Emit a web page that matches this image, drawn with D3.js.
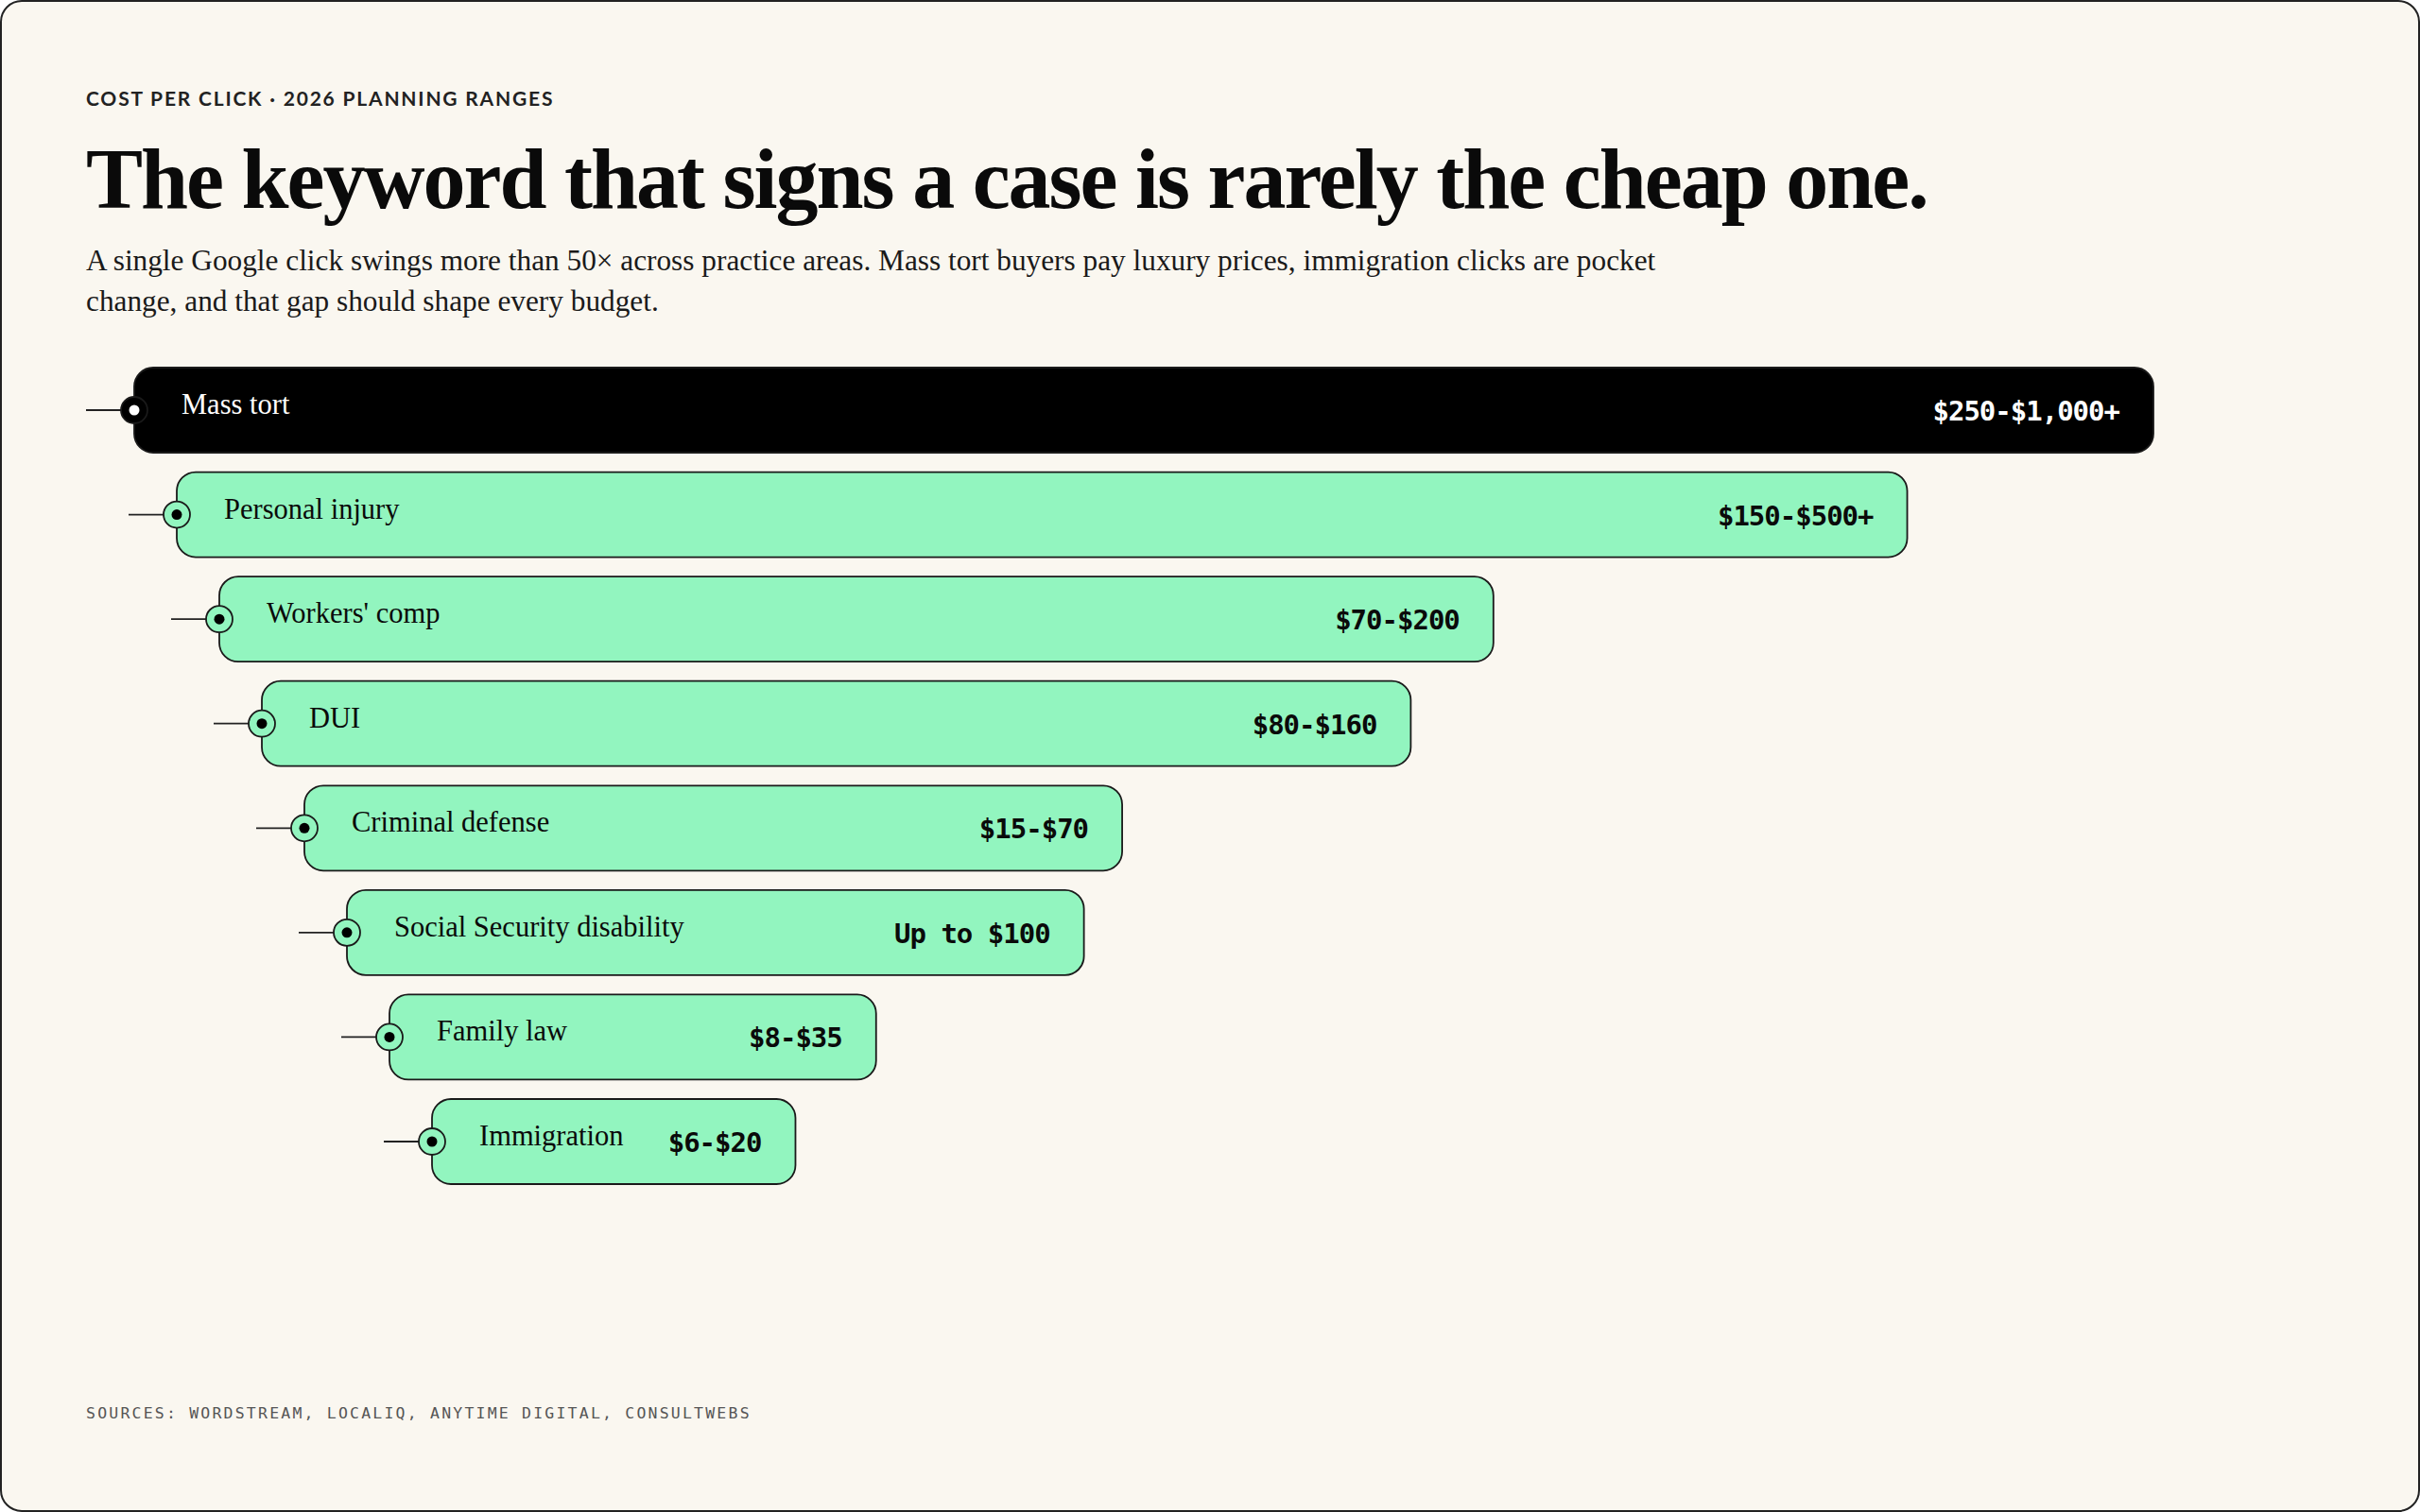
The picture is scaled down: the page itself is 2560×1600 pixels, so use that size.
<!DOCTYPE html>
<html><head><meta charset="utf-8">
<script src="https://cdn.jsdelivr.net/npm/d3@7"></script>
<style>
body{margin:0;background:#fff;}
</style></head>
<body>
<script>
var categories = ["Mass tort", "Personal injury", "Workers' comp", "DUI", "Criminal defense", "Social Security disability", "Family law", "Immigration"];
var rangeLabels = ["$250-$1,000+", "$150-$500+", "$70-$200", "$80-$160", "$15-$70", "Up to $100", "$8-$35", "$6-$20"];
// relative bar length (mass tort = 100)
var barLength = [100, 85.7, 63.1, 56.9, 40.5, 36.5, 24.1, 18.0];

var W = 2560, H = 1600;
var svg = d3.select('body').append('svg').attr('width', W).attr('height', H);

svg.append('rect').attr('x', 1).attr('y', 1).attr('width', W - 2).attr('height', H - 2)
    .attr('rx', 22).attr('fill', '#faf7f0').attr('stroke', '#222').attr('stroke-width', 2);

svg.append('text').attr('x', 91).attr('y', 112)
    .attr('font-family', 'Lato').attr('font-weight', 700).attr('font-size', 21)
    .attr('letter-spacing', 1.8).attr('fill', '#222')
    .text('COST PER CLICK · 2026 PLANNING RANGES');

svg.append('text').attr('x', 91).attr('y', 220)
    .attr('font-family', 'Liberation Serif').attr('font-weight', 700).attr('font-size', 90)
    .attr('letter-spacing', -2).attr('fill', '#0a0a0a')
    .text('The keyword that signs a case is rarely the cheap one.');

var sub = ['A single Google click swings more than 50× across practice areas. Mass tort buyers pay luxury prices, immigration clicks are pocket',
           'change, and that gap should shape every budget.'];
svg.selectAll('.sub').data(sub).enter().append('text')
    .attr('x', 91).attr('y', function(d, i) { return 286 + i * 43; })
    .attr('font-family', 'Liberation Serif').attr('font-size', 31.3).attr('fill', '#1a1a1a')
    .text(function(d) { return d; });

var y = d3.scaleBand().domain(categories).range([389, 1253]).paddingInner(0.186).paddingOuter(0);
var x0 = d3.scaleBand().domain(categories).range([142, 502]);
var w = d3.scaleLinear().domain([0, 100]).range([0, 2136]);

var rows = svg.selectAll('.row').data(categories).enter().append('g')
    .attr('transform', function(d) { return 'translate(' + x0(d) + ',' + y(d) + ')'; });

var bh = y.bandwidth();
rows.append('line').attr('x1', -51).attr('x2', 0).attr('y1', bh / 2).attr('y2', bh / 2)
    .attr('stroke', '#222').attr('stroke-width', 1.8);
rows.append('rect').attr('width', function(d, i) { return w(barLength[i]); }).attr('height', bh)
    .attr('rx', 20)
    .attr('fill', function(d, i) { return i === 0 ? '#000' : '#92f5bf'; })
    .attr('stroke', '#1a1a1a').attr('stroke-width', 1.8);
rows.append('circle').attr('cx', 0).attr('cy', bh / 2).attr('r', 14)
    .attr('fill', function(d, i) { return i === 0 ? '#000' : '#92f5bf'; })
    .attr('stroke', '#1a1a1a').attr('stroke-width', 1.8);
rows.append('circle').attr('cx', 0).attr('cy', bh / 2).attr('r', 5.5)
    .attr('fill', function(d, i) { return i === 0 ? '#fff' : '#000'; });

rows.append('text').attr('x', 50).attr('y', bh / 2 + 4)
    .attr('font-family', 'Liberation Serif').attr('font-size', 30.5)
    .attr('fill', function(d, i) { return i === 0 ? '#fff' : '#0a0a0a'; })
    .text(function(d) { return d; });
rows.append('text').attr('x', function(d, i) { return w(barLength[i]) - 36; }).attr('y', bh / 2 + 11)
    .attr('text-anchor', 'end')
    .attr('font-family', 'DejaVu Sans Mono').attr('font-weight', 700).attr('font-size', 29)
    .attr('letter-spacing', -1)
    .attr('fill', function(d, i) { return i === 0 ? '#fff' : '#0a0a0a'; })
    .text(function(d, i) { return rangeLabels[i]; });

svg.append('text').attr('x', 91).attr('y', 1501)
    .attr('font-family', 'DejaVu Sans Mono').attr('font-size', 16.5)
    .attr('letter-spacing', 2.2).attr('fill', '#555')
    .text('SOURCES: WORDSTREAM, LOCALIQ, ANYTIME DIGITAL, CONSULTWEBS');
</script>
</body></html>
